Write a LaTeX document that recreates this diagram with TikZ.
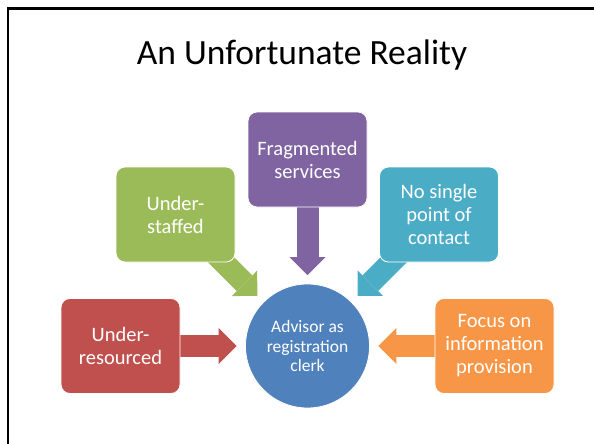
\documentclass[tikz,border=0pt]{standalone}
\usepackage{fontspec}
\setmainfont{Carlito}
\usetikzlibrary{arrows.meta,backgrounds}
\definecolor{slidered}{HTML}{C0504D}
\definecolor{slidegreen}{HTML}{9BBB59}
\definecolor{slidepurple}{HTML}{8064A2}
\definecolor{slideaqua}{HTML}{4BACC6}
\definecolor{slideorange}{HTML}{F79646}
\definecolor{slideblue}{HTML}{4F81BD}
\begin{document}
\begin{tikzpicture}[x=1pt,y=-1pt]
			\tikzstyle{box} = [draw=white, line width=0.8pt, rounded corners=9pt, minimum width=119pt, minimum height=95pt, inner sep=0pt, align=center, text=white, font=\fontsize{20.5}{23}\selectfont]
			\tikzstyle{hub} = [draw=white, line width=0.8pt, shape=circle, minimum size=124pt, inner sep=0pt, align=center, text=white, font=\fontsize{17.5}{19.5}\selectfont]
			\tikzstyle{arr} = [line width=22pt, shorten >=8.5pt, -{Triangle[length=18pt, width=36pt, line width=0pt]}]
			\useasboundingbox (0,0) rectangle (594,444);
			\draw[line width=2.5pt] (8,444) -- (8,8.7) -- (594,8.7);
			\node[anchor=base, font=\fontsize{35.5}{40}\selectfont] (title) at (302,65) {An Unfortunate Reality};
			\node[hub, fill=slideblue] (advisor) at (307.5,346) {Advisor as\\registration\\clerk};
			\node[box, fill=slidered] (resourced) at (120.5,346) {Under-\\resourced};
			\node[box, fill=slidegreen] (staffed) at (175.5,214.5) {Under-\\staffed};
			\node[box, fill=slidepurple] (fragmented) at (307.5,159.5) {Fragmented\\services};
			\node[box, fill=slideaqua] (contact) at (439,214.5) {No single\\point of\\contact};
			\node[box, fill=slideorange] (provision) at (494.5,346) {Focus on\\information\\provision};
			% block arrows behind the boxes
			\begin{scope}[on background layer]
				\draw[arr, slidered] (resourced.center) -- (advisor);
				\draw[arr, slidegreen] (staffed.center) -- (advisor);
				\draw[arr, slidepurple] (fragmented.center) -- (advisor);
				\draw[arr, slideaqua] (contact.center) -- (advisor);
				\draw[arr, slideorange] (provision.center) -- (advisor);
			\end{scope}
\end{tikzpicture}
\end{document}
